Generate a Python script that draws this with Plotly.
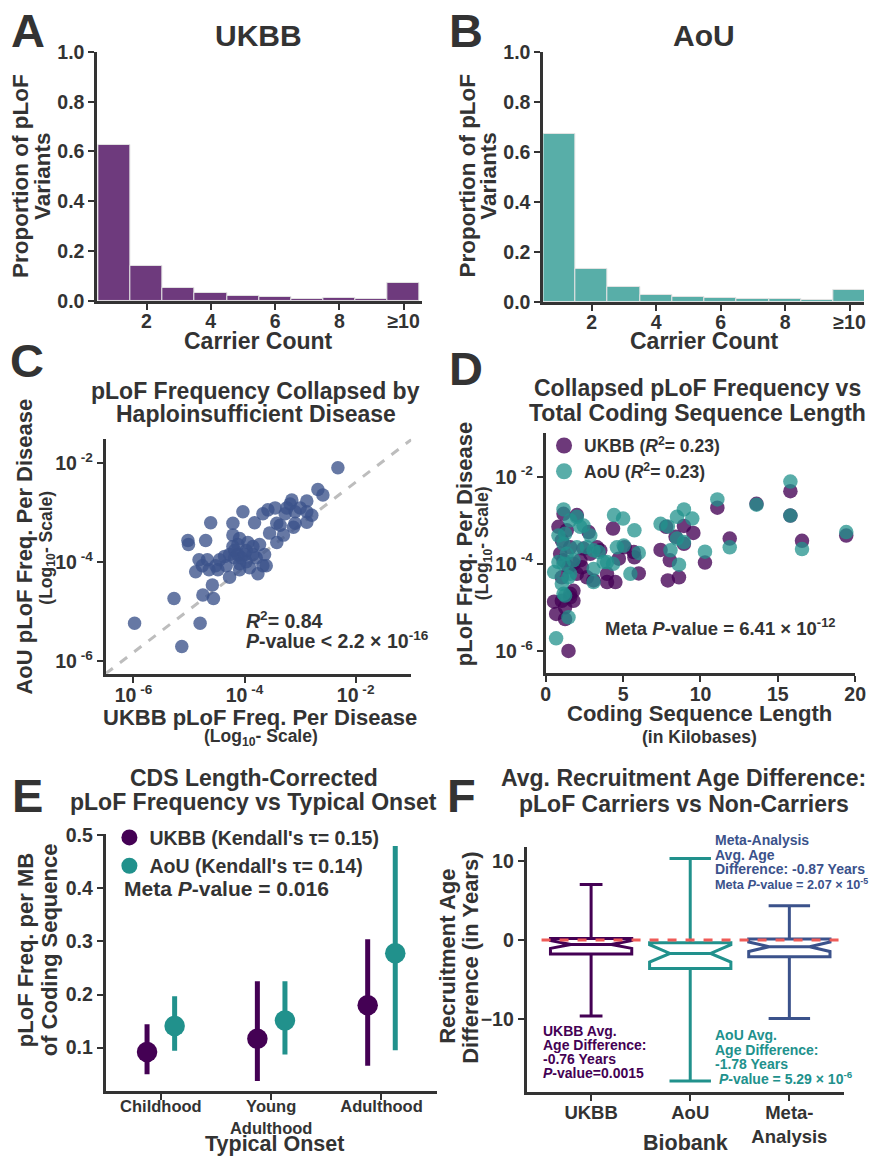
import numpy as np
import plotly.graph_objects as go

# ---------------- DATA ----------------
carrier_bins = list(range(1, 11))
carrier_ticktext = ["2", "4", "6", "8", "≥10"]
ukbb_prop = [0.627, 0.138, 0.051, 0.033, 0.021, 0.016, 0.007, 0.010, 0.007, 0.072]
aou_prop = [0.673, 0.131, 0.061, 0.028, 0.021, 0.017, 0.012, 0.010, 0.007, 0.047]

# Panel C: log10 pLoF frequency per disease (UKBB x, AoU y)
c_ukbb_log10 = [-5.98, -5.13, -4.80, -5.27, -4.75, -4.56, -2.32, -2.68, -2.59, -2.88,
                -3.15, -3.18, -3.45, -3.58, -3.67, -3.27, -3.09, -2.88, -3.09, -2.88,
                -3.12, -3.36, -4.03, -3.82, -4.21, -4.61, -5.02, -5.01, -4.70, -4.21,
                -4.09, -4.12, -4.18, -4.27, -3.97, -3.85, -3.73, -3.64, -3.42, -3.55,
                -4.82, -4.67, -4.45, -4.88, -4.64, -4.52, -4.33, -4.27, -4.09, -3.91,
                -3.76, -3.61, -4.58, -4.06, -3.97, -3.79, -4.18, -4.36, -4.48, -3.85,
                -4.21, -3.94, -4.12, -4.09, -4.76, -3.30, -3.42, -3.00, -2.79, -3.24,
                -3.67, -4.00]
c_aou_log10 = [-5.23, -5.70, -5.23, -4.73, -4.66, -4.73, -2.09, -2.53, -2.64, -2.76,
               -2.74, -2.82, -2.90, -2.94, -3.02, -3.02, -2.98, -2.98, -3.21, -3.19,
               -3.29, -3.25, -2.98, -3.20, -3.21, -3.20, -3.56, -3.64, -3.56, -3.45,
               -3.52, -3.64, -3.76, -3.84, -3.76, -3.68, -3.64, -3.84, -3.60, -3.41,
               -3.95, -3.95, -3.95, -4.19, -4.15, -4.07, -4.07, -4.30, -4.15, -4.11,
               -4.23, -4.07, -4.46, -3.91, -3.99, -3.91, -3.91, -3.88, -4.15, -3.84,
               -3.68, -3.60, -3.84, -4.03, -4.07, -3.45, -3.21, -2.90, -3.05, -2.90,
               -4.07, -3.84]
c_fit_intercept = -0.66
c_fit_slope = 0.86
c_x_log_range = [-6.5, -1.0]
c_y_log_range = [-6.25, -1.5]

# Panel D: coding sequence length (kb) vs log10 collapsed pLoF frequency
d_ukbb_kb = [1.47, 0.54, 0.67, 1.25, 1.25, 1.58, 1.79, 1.04, 0.82, 1.15, 2.01, 1.04, 1.58,
             2.01, 2.66, 3.31, 3.09, 3.52, 3.96, 4.50, 3.96, 4.72, 5.10, 5.69, 5.73, 6.01,
             4.35, 7.42, 7.89, 8.02, 8.61, 8.93, 9.54, 8.93, 10.29, 11.09, 11.89, 13.62,
             15.81, 15.81, 16.56, 19.42, 7.78, 8.39, 2.44, 2.88, 2.23, 1.47, 1.15, 1.79,
             2.34, 1.58, 1.04, 1.79, 0.93, 1.36, 2.77]
d_ukbb_log10 = [-6.00, -4.87, -5.15, -5.27, -5.00, -4.69, -4.62, -4.31, -3.15, -2.85, -2.88,
                -3.46, -3.62, -4.23, -4.31, -3.62, -4.38, -3.69, -4.23, -4.42, -4.42, -3.88,
                -3.62, -3.73, -3.85, -4.22, -3.19, -3.68, -4.38, -3.92, -4.31, -3.13, -3.29,
                -3.54, -3.97, -2.71, -3.42, -2.62, -2.33, -2.89, -3.47, -3.35, -3.15, -3.38,
                -3.65, -3.77, -3.92, -4.08, -3.92, -4.00, -4.08, -4.77, -4.85, -4.85, -3.77,
                -3.23, -3.27]
d_aou_kb = [0.67, 1.47, 1.25, 0.54, 0.82, 0.82, 1.15, 1.58, 2.01, 2.44, 2.88, 2.66, 3.09,
            3.42, 3.96, 4.35, 3.09, 3.09, 4.41, 5.00, 5.73, 4.60, 5.04, 6.01, 5.47, 7.42,
            7.89, 8.48, 8.93, 9.47, 8.48, 8.93, 8.06, 8.61, 10.29, 11.09, 11.89, 13.62,
            15.81, 15.81, 16.56, 19.42, 1.15, 1.36, 1.15, 1.58, 1.79, 2.01, 1.25, 2.23,
            1.47, 3.74, 1.15, 1.04]
d_aou_log10 = [-5.71, -5.23, -4.73, -4.19, -3.96, -3.35, -2.75, -3.00, -2.92, -3.12, -3.35,
               -3.62, -3.69, -3.73, -3.96, -4.00, -4.12, -4.42, -2.88, -2.96, -3.23, -3.62,
               -3.58, -3.75, -4.23, -3.08, -3.14, -2.92, -2.75, -2.96, -3.42, -3.50, -3.69,
               -4.02, -3.72, -2.52, -3.62, -2.64, -2.11, -2.89, -3.66, -3.27, -3.54, -3.77,
               -4.00, -4.23, -3.92, -3.62, -3.31, -3.15, -4.31, -3.96, -4.69, -4.46]
d_x_range = [0, 20]
d_y_log_range = [-6.51, -1.0]

# Panel E: CDS-length corrected frequency by typical onset
onset_categories = ["Childhood", "Young<br>Adulthood", "Adulthood"]
e_ukbb_mean = [0.092, 0.117, 0.180]
e_ukbb_low = [0.050, 0.037, 0.066]
e_ukbb_high = [0.144, 0.225, 0.304]
e_aou_mean = [0.141, 0.151, 0.278]
e_aou_low = [0.094, 0.087, 0.095]
e_aou_high = [0.197, 0.225, 0.480]

# Panel F: recruitment age difference boxes
biobanks = ["UKBB", "AoU", "Meta"]
biobank_ticktext = ["UKBB", "AoU", "Meta-<br>Analysis"]
f_upper = [7.05, 10.34, 4.35]
f_q3 = [0.21, -0.34, 0.13]
f_median = [-0.55, -1.69, -0.84]
f_q1 = [-1.77, -3.59, -2.11]
f_lower = [-9.62, -17.85, -9.92]
f_notch = [0.5, 1.1, 0.6]

# ---------------- STYLE ----------------
W, H = 875, 1162
# the photographed page shows the figure slightly inset/scaled; positions below are
# given in photo pixels and mapped back to figure pixels
OFFX, OFFY, SX, SY = 7.0, 10.0, 0.978, 0.982
FONT = "Liberation Sans, Arial, sans-serif"
TXT = "#333333"
PURPLE_HIST = "#6e3a7d"
TEAL_HIST = "#58aea8"
VIR_PURPLE = "#440154"
VIR_TEAL = "#21918c"
VIR_BLUE = "#3b528b"


def fx(p):
    return min(1.0, max(0.0, (p - OFFX) / SX / W))


def fy(p):
    return min(1.0, max(0.0, 1 - (p - OFFY) / SY / H))


fig = go.Figure()


def label(s, x, y, size, color=TXT, angle=0, xanchor="center", yanchor="middle"):
    fig.add_annotation(text=s, x=fx(x), y=fy(y), xref="paper", yref="paper",
                       showarrow=False, textangle=angle, xanchor=xanchor, yanchor=yanchor,
                       align="left" if xanchor == "left" else "center",
                       font=dict(family=FONT, size=size, color=color, weight="bold"))


def axis(dom, horizontal, anchor, standoff=-4, **kw):
    d = dict(domain=[fx(dom[0]), fx(dom[1])] if horizontal else [fy(dom[1]), fy(dom[0])],
             anchor=anchor, showline=True, linecolor=TXT, linewidth=3,
             ticks="outside", ticklen=6, tickwidth=2, tickcolor=TXT,
             showgrid=False, zeroline=False,
             tickfont=dict(family=FONT, size=19.5, color=TXT, weight="bold"))
    if horizontal:
        d["ticklabelstandoff"] = standoff
        d["ticklabeloverflow"] = "allow"
    d.update(kw)
    return d


# ---------------- TRACES ----------------
fig.add_trace(go.Bar(x=carrier_bins, y=ukbb_prop, width=1,
                     marker=dict(color=PURPLE_HIST, line=dict(color="#e3e3e3", width=1)),
                     xaxis="x", yaxis="y", showlegend=False))
fig.add_trace(go.Bar(x=carrier_bins, y=aou_prop, width=1,
                     marker=dict(color=TEAL_HIST, line=dict(color="#e3e3e3", width=1)),
                     xaxis="x2", yaxis="y2", showlegend=False))
cx = np.power(10.0, np.array(c_ukbb_log10))
cy = np.power(10.0, np.array(c_aou_log10))
fit_lx = np.array(c_x_log_range)
fig.add_trace(go.Scatter(x=np.power(10.0, fit_lx),
                         y=np.power(10.0, c_fit_intercept + c_fit_slope * fit_lx),
                         mode="lines", line=dict(color="#bdbdbd", width=3, dash="dash"),
                         xaxis="x3", yaxis="y3", showlegend=False, hoverinfo="skip"))
fig.add_trace(go.Scatter(x=cx, y=cy, mode="markers",
                         marker=dict(size=13.5, color=VIR_BLUE, opacity=0.78),
                         xaxis="x3", yaxis="y3", showlegend=False))
fig.add_trace(go.Scatter(x=d_ukbb_kb, y=np.power(10.0, np.array(d_ukbb_log10)), mode="markers",
                         marker=dict(size=14.5, color=VIR_PURPLE, opacity=0.78),
                         xaxis="x4", yaxis="y4", showlegend=False))
fig.add_trace(go.Scatter(x=d_aou_kb, y=np.power(10.0, np.array(d_aou_log10)), mode="markers",
                         marker=dict(size=14.5, color=VIR_TEAL, opacity=0.75),
                         xaxis="x4", yaxis="y4", showlegend=False))
fig.add_trace(go.Scatter(x=[None], y=[None], mode="markers", name="UKBB (<i>R</i><sup>2</sup>= 0.23)",
                         marker=dict(size=18, color=VIR_PURPLE, opacity=0.78),
                         xaxis="x4", yaxis="y4", legend="legend"))
fig.add_trace(go.Scatter(x=[None], y=[None], mode="markers", name="AoU (<i>R</i><sup>2</sup>= 0.23)",
                         marker=dict(size=18, color=VIR_TEAL, opacity=0.75),
                         xaxis="x4", yaxis="y4", legend="legend"))
idx = np.arange(len(onset_categories))
off = 0.125
for mean, lo, hi, col, nm, sgn in [
    (e_ukbb_mean, e_ukbb_low, e_ukbb_high, VIR_PURPLE, "UKBB (Kendall's τ= 0.15)", -1),
    (e_aou_mean, e_aou_low, e_aou_high, VIR_TEAL, "AoU (Kendall's τ= 0.14)", 1)]:
    m = np.array(mean)
    fig.add_trace(go.Scatter(x=idx + sgn * off, y=m, mode="markers",
                             marker=dict(size=20.5, color=col),
                             error_y=dict(type="data", symmetric=False,
                                          array=np.array(hi) - m, arrayminus=m - np.array(lo),
                                          color=col, thickness=5, width=0),
                             xaxis="x5", yaxis="y5", showlegend=False))
    fig.add_trace(go.Scatter(x=[None], y=[None], mode="markers", name=nm,
                             marker=dict(size=20, color=col),
                             xaxis="x5", yaxis="y5", legend="legend2"))
f_cols = [VIR_PURPLE, VIR_TEAL, VIR_BLUE]
f_whisk = [0.28, 0.51, 0.51]
for i, b in enumerate(biobanks):
    fig.add_trace(go.Box(x=[b], q1=[f_q1[i]], median=[f_median[i]], q3=[f_q3[i]],
                         lowerfence=[f_lower[i]], upperfence=[f_upper[i]],
                         notched=True, notchspan=[f_notch[i]], notchwidth=0.25,
                         width=0.82, whiskerwidth=f_whisk[i],
                         line=dict(color=f_cols[i], width=3), fillcolor="white",
                         boxpoints=False, xaxis="x6", yaxis="y6", showlegend=False))

# ---------------- AXES ----------------
log_ticks = [1e-6, 1e-4, 1e-2]
log_text = ["10<sup> -6</sup>", "10<sup> -4</sup>", "10<sup> -2</sup>"]
b_right = OFFX + SX * W  # right-most photographed pixel of the figure
b_range_end = 0.5 + (b_right - 543.3) / (866 - 543.3) * 10.05
lay = dict(
    xaxis=axis([99, 422], True, "y", standoff=-5, range=[0.47, 10.56],
               tickvals=[2, 4, 6, 8, 10], ticktext=carrier_ticktext),
    yaxis=axis([51, 300], False, "x", range=[0, 1.0], dtick=0.2, tickformat=".1f"),
    xaxis2=axis([543.3, b_right], True, "y2", standoff=-5, range=[0.5, b_range_end],
                tickvals=[2, 4, 6, 8, 10], ticktext=carrier_ticktext),
    yaxis2=axis([51, 301], False, "x2", range=[0, 1.0], dtick=0.2, tickformat=".1f"),
    xaxis3=axis([107.3, 411.7], True, "y3", type="log", range=c_x_log_range,
                tickvals=log_ticks, ticktext=log_text),
    yaxis3=axis([438, 673.3], False, "x3", type="log", range=c_y_log_range,
                tickvals=log_ticks, ticktext=log_text),
    xaxis4=axis([545.7, 854], True, "y4", range=d_x_range, dtick=5),
    yaxis4=axis([432.7, 672.7], False, "x4", type="log", range=d_y_log_range,
                tickvals=log_ticks, ticktext=log_text),
    xaxis5=axis([107.3, 437], True, "y5", standoff=-7, range=[-0.5, 2.5], tickvals=list(idx),
                ticktext=onset_categories,
                tickfont=dict(family=FONT, size=16.5, color=TXT, weight="bold")),
    yaxis5=axis([834, 1090.7], False, "x5", range=[0.019, 0.502],
                tickvals=[0.1, 0.2, 0.3, 0.4, 0.5], tickformat=".1f"),
    xaxis6=axis([526.7, 842.7], True, "y6", type="category", range=[-0.65, 2.55],
                categoryorder="array", categoryarray=biobanks,
                tickvals=biobanks, ticktext=biobank_ticktext,
                tickfont=dict(family=FONT, size=18.5, color=TXT, weight="bold")),
    yaxis6=axis([846.7, 1091.7], False, "x6", range=[-19.2, 11.8],
                tickvals=[-10, 0, 10]),
)
fig.update_layout(**lay)

fig.add_shape(type="line", xref="x6", yref="y6", x0=-0.5, x1=2.5, y0=0, y1=0,
              line=dict(color="#ef5b57", width=3, dash="dash"), layer="above")

fig.update_layout(
    width=W, height=H, autosize=False, margin=dict(l=0, r=0, t=0, b=0),
    paper_bgcolor="white", plot_bgcolor="white",
    font=dict(family=FONT, color=TXT, weight="bold"),
    bargap=0, boxmode="overlay", showlegend=True,
    legend=dict(x=fx(544), y=fy(427), xanchor="left", yanchor="top",
                bgcolor="rgba(0,0,0,0)", itemwidth=30, tracegroupgap=0,
                font=dict(family=FONT, size=17.5, color=TXT, weight="bold")),
    legend2=dict(x=fx(111), y=fy(818), xanchor="left", yanchor="top",
                 bgcolor="rgba(0,0,0,0)", itemwidth=30, tracegroupgap=0,
                 font=dict(family=FONT, size=19.5, color=TXT, weight="bold")),
)

# ---------------- TEXT ----------------
for L, x, y in [("A", 30, 30), ("B", 466, 30), ("C", 29, 360), ("D", 466, 368),
                ("E", 29, 795), ("F", 462, 795)]:
    label(L, x, y, 47)

label("UKBB", 260, 35, 30)
label("AoU", 703, 35, 30)
label("Proportion of pLoF", 23, 175, 22.5, angle=-90)
label("Variants", 45, 175, 22.5, angle=-90)
label("Carrier Count", 260, 340, 23)
label("Proportion of pLoF", 468, 175, 22.5, angle=-90)
label("Variants", 489, 175, 22.5, angle=-90)
label("Carrier Count", 704, 340, 23)

label("pLoF Frequency Collapsed by", 257, 390, 23)
label("Haploinsufficient Disease", 257, 413, 23)
label("AoU pLoF Freq. Per Disease", 26, 546, 22, angle=-90)
label("(Log<sub>10</sub>- Scale)", 49, 547, 17.5, angle=-90)
label("UKBB pLoF Freq. Per Disease", 261, 717, 22)
label("(Log<sub>10</sub>- Scale)", 262, 737, 17.5)
label("<i>R</i><sup>2</sup>= 0.84", 245, 620, 19.5, xanchor="left")
label("<i>P</i>-value < 2.2 × 10<sup>-16</sup>", 245, 640, 19.5, xanchor="left")

label("Collapsed pLoF Frequency vs", 697, 387, 23)
label("Total Coding Sequence Length", 697, 412, 23)
label("pLoF Freq. Per Disease", 465, 543, 22, angle=-90)
label("(Log<sub>10</sub>- Scale)", 484, 543, 17.5, angle=-90)
label("Coding Sequence Length", 699, 713, 22)
label("(in Kilobases)", 699, 737, 17.5)
label("Meta <i>P</i>-value = 6.41 × 10<sup>-12</sup>", 603, 627, 18.5, xanchor="left")

label("CDS Length-Corrected", 255, 778, 23)
label("pLoF Frequency vs Typical Onset", 255, 802, 23)
label("pLoF Freq. per MB", 27, 950, 22, angle=-90)
label("of Coding Sequence", 51, 950, 22, angle=-90)
label("Typical Onset", 275, 1144, 21.5)
label("Meta <i>P</i>-value = 0.016", 124, 888, 21, xanchor="left")

label("Avg. Recruitment Age Difference:", 683, 778, 23)
label("pLoF Carriers vs Non-Carriers", 683, 804, 23)
label("Recruitment Age", 447, 956, 22, angle=-90)
label("Difference (in Years)", 470, 958, 22, angle=-90)
label("Biobank", 685, 1143, 21.5)


def block(lines, x, ys, color, sizes):
    for s, y, sz in zip(lines, ys, sizes):
        label(s, x, y, sz, color=color, xanchor="left")


block(["Meta-Analysis", "Avg. Age", "Difference: -0.87 Years",
       "Meta <i>P</i>-value = 2.07 × 10<sup>-5</sup>"], 712.7, [840, 854.5, 869, 883.5],
      VIR_BLUE, [14, 14, 14, 12.7])
block(["UKBB Avg.", "Age Difference:", "-0.76 Years", "<i>P</i>-value=0.0015"],
      541, [1031, 1045, 1059, 1073], VIR_PURPLE, [14] * 4)
block(["AoU Avg.", "Age Difference:", "-1.78 Years", " <i>P</i>-value = 5.29 × 10<sup>-6</sup>"],
      712.7, [1035, 1049.5, 1064, 1078.5], VIR_TEAL, [14] * 4)

fig.write_html("out.html", config={"displayModeBar": False},
               post_script="document.body.style.margin='0px';"
               "document.documentElement.style.overflow='hidden';")
